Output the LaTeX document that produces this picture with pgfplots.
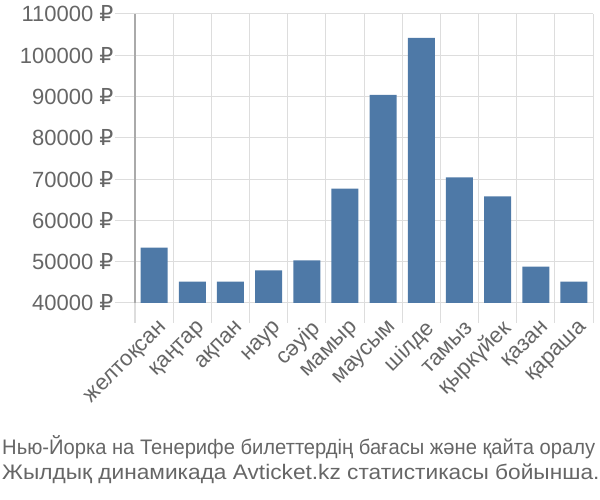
\documentclass[border=0pt]{standalone}
\usepackage{pgfplots}
\pgfplotsset{compat=1.18}
\usepackage{fontspec}
\setmainfont{Liberation Sans}
\newfontfamily\rub{DejaVu Sans}
\newcommand{\R}{{\rub ₽}}
\definecolor{barblue}{HTML}{4E79A7}
\definecolor{txt}{HTML}{666666}
\definecolor{gridc}{HTML}{DDDDDD}
\definecolor{axc}{HTML}{AAAAAA}
\begin{document}
\begin{tikzpicture}[x=1pt,y=1pt]
\useasboundingbox (0,0) rectangle (600,500);
\begin{axis}[
  scale only axis, width=458pt, height=289pt,
  at={(135pt,197pt)}, anchor=south west,
  xmin=-0.5, xmax=11.5, ymin=40000, ymax=110000,
  scaled y ticks=false,
  axis x line*=bottom, axis y line*=left,
  x axis line style={draw=gridc, line width=1pt, -},
  y axis line style={draw=axc, line width=1.2pt, -},
  xtick={0,...,11},
  xticklabels={желтоқсан,қаңтар,ақпан,наур,сәуір,мамыр,маусым,шілде,тамыз,қыркүйек,қазан,қараша},
  minor xtick={-0.5,0.5,...,11.5},
  xminorgrids=true, ymajorgrids=true,
  grid style={draw=gridc, line width=1pt},
  minor grid style={draw=gridc, line width=1pt},
  major x tick style={draw=none},
  minor x tick style={draw=gridc, line width=1pt},
  y tick style={draw=gridc, line width=1pt},
  tick align=outside,
  major tick length=20pt, minor tick length=20pt,
  ytick={40000,50000,...,110000},
  yticklabels={40000 \R,50000 \R,60000 \R,70000 \R,80000 \R,90000 \R,100000 \R,110000 \R},
  yticklabel style={font=\fontsize{22}{24}\selectfont, text=txt, xshift=2pt},
  xticklabel style={font=\fontsize{22}{24}\selectfont, text=txt, rotate=45, anchor=east, xshift=9pt, yshift=-9pt},
  ybar, bar width=27pt,
  clip=false,
]
\addplot[fill=barblue, draw=none] coordinates {
(0,53400) (1,45200) (2,45200) (3,47900) (4,50300) (5,67700) (6,90400) (7,104200) (8,70400) (9,65800) (10,48800) (11,45200)};
\end{axis}
\node[text=txt, font=\fontsize{21}{28}\selectfont\addfontfeature{FakeStretch=0.96}, anchor=base west, inner sep=0pt] at (2,45) {Нью-Йорка на Тенерифе билеттердің бағасы және қайта оралу};
\node[text=txt, font=\fontsize{21}{28}\selectfont\addfontfeature{FakeStretch=1.08}, anchor=base west, inner sep=0pt] at (2,20) {Жылдық динамикада Avticket.kz статистикасы бойынша.};
\end{tikzpicture}
\end{document}
